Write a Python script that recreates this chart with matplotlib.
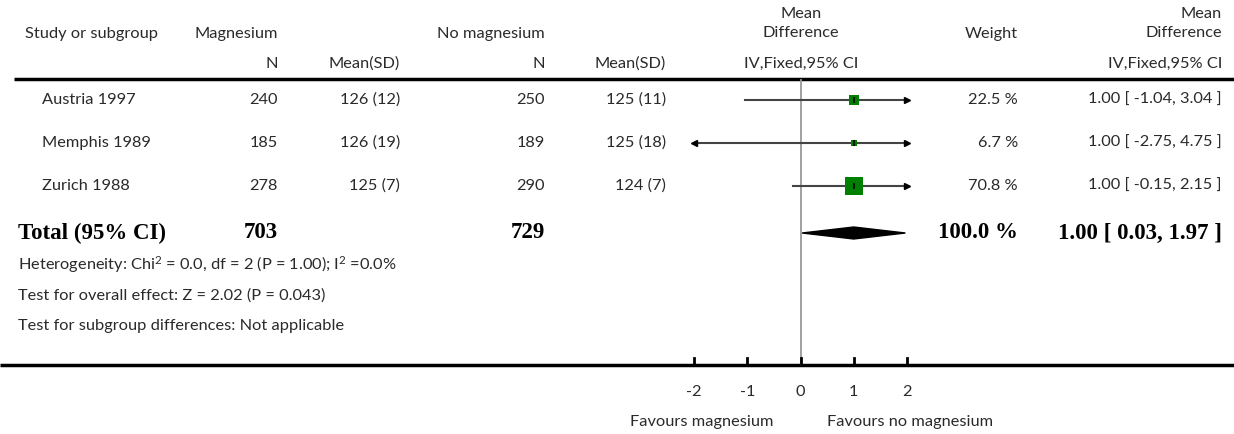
import numpy as np
import matplotlib
matplotlib.use('Agg')
import matplotlib.pyplot as plt

# data
studies = ['Austria 1997', 'Memphis 1989', 'Zurich 1988']
n_mag = [240, 185, 278]
msd_mag = ['126 (12)', '126 (19)', '125 (7)']
n_nomag = [250, 189, 290]
msd_nomag = ['125 (11)', '125 (18)', '124 (7)']
md = [1.00, 1.00, 1.00]
ci_low = [-1.04, -2.75, -0.15]
ci_high = [3.04, 4.75, 2.15]
weights = [22.5, 6.7, 70.8]
total_n_mag = 703
total_n_nomag = 729
total_md = 1.00
total_low = 0.03
total_high = 1.97
ticks = [-2, -1, 0, 1, 2]
tick_labels = ['-2', '-1', '0', '1', '2']

W, H = 1234, 434
FONT = 'Lato'
SERIF = 'Liberation Serif'
fs = 11.8
TXT = '#2a2a2a'

plt.rcParams['mathtext.fontset'] = 'custom'
plt.rcParams['mathtext.rm'] = FONT
plt.rcParams['mathtext.it'] = FONT
plt.rcParams['mathtext.bf'] = FONT

fig = plt.figure(figsize=(W / 100, H / 100), dpi=100)
ax = fig.add_axes([0, 0, 1, 1])
ax.set_xlim(0, W)
ax.set_ylim(H, 0)
ax.axis('off')

# forest axes, x from -2 to 2
x0px, x1px = 694, 907
fax = fig.add_axes([x0px / W, 0, (x1px - x0px) / W, 1])
fax.set_xlim(-2, 2)
fax.set_ylim(H, 0)
fax.axis('off')

def t(x, y, s, ha='left', **kw):
    kw.setdefault('family', FONT)
    kw.setdefault('fontsize', fs)
    kw.setdefault('color', TXT)
    ax.text(x, y, s, ha=ha, va='center', **kw)

# header
t(25, 34, 'Study or subgroup')
t(278, 34, 'Magnesium', ha='right')
t(545, 34, 'No magnesium', ha='right')
t(801, 14, 'Mean', ha='center')
t(801, 33, 'Difference', ha='center')
t(1018, 34, 'Weight', ha='right')
t(1222, 14, 'Mean', ha='right')
t(1222, 33, 'Difference', ha='right')
t(278, 64, 'N', ha='right')
t(400, 64, 'Mean(SD)', ha='right')
t(545, 64, 'N', ha='right')
t(666, 64, 'Mean(SD)', ha='right')
t(801, 64, 'IV,Fixed,95% CI', ha='center')
t(1222, 64, 'IV,Fixed,95% CI', ha='right')

ax.plot([14, W], [79, 79], color='black', lw=2.5, solid_capstyle='butt')
ax.plot([0, W], [365, 365], color='black', lw=2.5, solid_capstyle='butt')

# zero line
fax.plot([0, 0], [80, 365], color='#999999', lw=1.3, zorder=1)

rows_y = [100, 143, 186]
for i, y in enumerate(rows_y):
    t(42, y, studies[i])
    t(278, y, str(n_mag[i]), ha='right')
    t(400, y, msd_mag[i], ha='right')
    t(545, y, str(n_nomag[i]), ha='right')
    t(666, y, msd_nomag[i], ha='right')
    t(1018, y, '%.1f %%' % weights[i], ha='right')
    t(1222, y, '%.2f [ %.2f, %.2f ]' % (md[i], ci_low[i], ci_high[i]), ha='right')

    lo = max(ci_low[i], -2)
    hi = min(ci_high[i], 2)
    fax.plot([lo, hi], [y, y], color='#444444', lw=1.5, zorder=2, clip_on=False)
    if ci_low[i] < -2:
        fax.plot(-2, y, marker='<', color='black', markersize=4, zorder=3, clip_on=False)
    if ci_high[i] > 2:
        fax.plot(2, y, marker='>', color='black', markersize=4, zorder=3, clip_on=False)
    size = 13.5 * np.sqrt(weights[i] / max(weights))
    fax.plot(md[i], y, marker='s', color='#008000', markersize=max(size, 5), mew=0, zorder=4)
    fax.plot(md[i], y, marker='|', color='black', markersize=5, mew=1.2, zorder=5)

# total row
ty = 233
tb = dict(family=SERIF, fontsize=16.5, fontweight='bold', color='black')
t(18, ty, 'Total (95% CI)', **tb)
t(278, ty, str(total_n_mag), ha='right', **tb)
t(545, ty, str(total_n_nomag), ha='right', **tb)
t(1018, ty, '100.0 %', ha='right', **tb)
t(1222, ty, '%.2f [ %.2f, %.2f ]' % (total_md, total_low, total_high), ha='right', **tb)
fax.fill([total_low, total_md, total_high, total_md], [ty, ty - 6, ty, ty + 6],
         color='black', zorder=4)

t(18, 265, 'Heterogeneity: Chi$^2$ = 0.0, df = 2 (P = 1.00); I$^2$ =0.0%')
t(18, 296, 'Test for overall effect: Z = 2.02 (P = 0.043)')
t(18, 326, 'Test for subgroup differences: Not applicable')

# bottom axis ticks
for v, lab in zip(ticks, tick_labels):
    fax.plot([v, v], [358, 365], color='black', lw=2, clip_on=False)
    fax.text(v, 392, lab, ha='center', va='center', family=FONT, fontsize=fs, color=TXT)
fax.text(-0.5, 422, 'Favours magnesium', ha='right', va='center', family=FONT,
         fontsize=fs, color=TXT)
fax.text(0.5, 422, 'Favours no magnesium', ha='left', va='center', family=FONT,
         fontsize=fs, color=TXT)

fig.savefig('out.png', dpi=100)
